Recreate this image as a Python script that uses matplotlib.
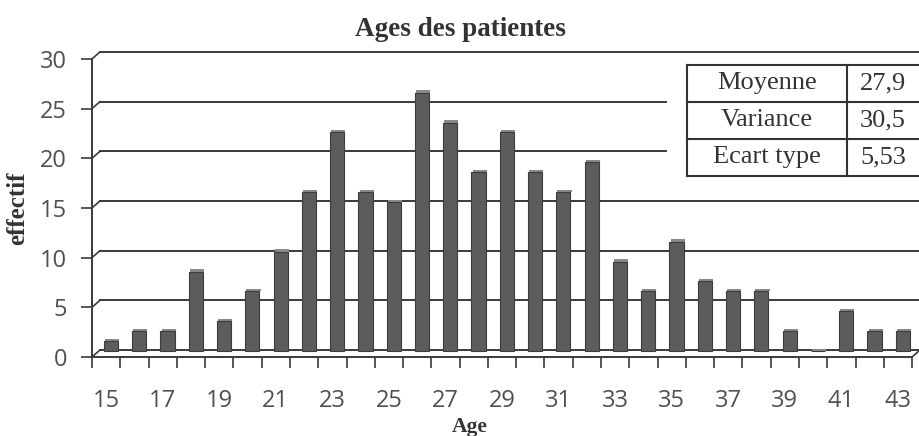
import matplotlib
matplotlib.use('Agg')
import matplotlib.pyplot as plt
from matplotlib.patches import Rectangle
from matplotlib.lines import Line2D

ages = list(range(15, 44))
effectif = [1, 2, 2, 8, 3, 6, 10, 16, 22, 16, 15, 26, 23, 18, 22, 18, 16, 19,
            9, 6, 11, 7, 6, 6, 2, 0, 4, 2, 2]
stat_names = ['Moyenne', 'Variance', 'Ecart type']
stat_values = ['27,9', '30,5', '5,53']
y_ticks = [0, 5, 10, 15, 20, 25, 30]

W, H = 920, 436
fig = plt.figure(figsize=(9.2, 4.36), dpi=100)
ax = fig.add_axes([92 / W, 79 / H, 828 / W, 308 / H])

n = len(ages)
dx, dy = 0.28, 0.7   # fake 3D depth
line_col = '#3a3a3a'
text_col = '#505050'

ax.set_xlim(-0.5, n - 0.5 + dx)
ax.set_ylim(0, 31)

# back wall gridlines + little diagonals
for y in y_ticks:
    ax.plot([-0.5 + dx, n - 0.5 + dx], [y + dy, y + dy], color=line_col, lw=1.4, zorder=1)
    ax.plot([-0.5, -0.5 + dx], [y, y + dy], color=line_col, lw=1.2, zorder=1)
# floor right side
ax.plot([n - 0.5, n - 0.5 + dx], [0, dy], color=line_col, lw=1.2, zorder=1)

# bars
xs = [i + 0.17 for i in range(n)]
ax.bar(xs, effectif, width=0.5, bottom=0.6, color='#5c5c5c',
       edgecolor='#3c3c3c', linewidth=0.8, zorder=3)
ax.bar([x + 0.04 for x in xs], [0.25] * n, width=0.5,
       bottom=[v + 0.6 for v in effectif], color='#8a8a8a', linewidth=0, zorder=2)

for s in ['top', 'right']:
    ax.spines[s].set_visible(False)
ax.spines['left'].set_bounds(0, 30)
ax.spines['bottom'].set_bounds(-0.5, n - 0.5)
for s in ['left', 'bottom']:
    ax.spines[s].set_color(line_col)
    ax.spines[s].set_linewidth(1.4)

ax.set_yticks(y_ticks)
ax.set_yticklabels([str(t) for t in y_ticks], fontfamily='Open Sans', fontsize=17,
                   color=text_col)
ax.tick_params(axis='y', length=8, width=1.2, color=line_col, pad=10)

ax.set_xticks(range(0, n, 2))
ax.set_xticklabels([str(a) for a in ages[::2]], fontfamily='Open Sans', fontsize=17,
                   color=text_col)
ax.set_xticks([i - 0.5 for i in range(n + 1)], minor=True)
ax.tick_params(axis='x', which='major', length=0, pad=23)
ax.tick_params(axis='x', which='minor', length=8, width=1.2, color=line_col, direction='out')

fig.text(470 / W, 1 - 432 / H, 'Age', ha='center', va='baseline',
         fontfamily='Liberation Serif', fontweight='bold', fontsize=15.5, color='#333333')
fig.text(18 / W, 1 - 208 / H, 'effectif', ha='center', va='center', rotation=90,
         fontfamily='Liberation Serif', fontweight='bold', fontsize=18, color='#333333')
fig.text(460 / W, 1 - 30 / H, 'Ages des patientes', ha='center', va='center',
         fontfamily='Liberation Serif', fontweight='bold', fontsize=19.5, color='#333333')

# stats table (in pixel coords of the figure)
def fx(px):
    return px / W


def fy(py):
    return 1 - py / H


fig.patches.append(Rectangle((fx(667), fy(182)), fx(W) - fx(667), fy(60) - fy(182),
                             transform=fig.transFigure, facecolor='white',
                             edgecolor='none', zorder=5))
x0, x1, x2 = 687, 847, 930
rows = [65, 102, 139, 176]
for r in rows:
    fig.lines.append(Line2D([fx(x0), fx(x2)], [fy(r), fy(r)], transform=fig.transFigure,
                            color='#333333', lw=1.5, zorder=6))
for c in [x0, x1]:
    fig.lines.append(Line2D([fx(c), fx(c)], [fy(rows[0]), fy(rows[-1])],
                            transform=fig.transFigure, color='#333333', lw=1.5, zorder=6))
for k, (name, val) in enumerate(zip(stat_names, stat_values)):
    yc = (rows[k] + rows[k + 1]) / 2
    fig.text(fx((x0 + x1) / 2), fy(yc), name, ha='center', va='center',
             fontfamily='Liberation Serif', fontsize=19, color='#333333', zorder=7)
    fig.text(fx(883), fy(yc), val, ha='center', va='center',
             fontfamily='Liberation Serif', fontsize=19, color='#333333', zorder=7)

fig.savefig('out.png', dpi=100)
